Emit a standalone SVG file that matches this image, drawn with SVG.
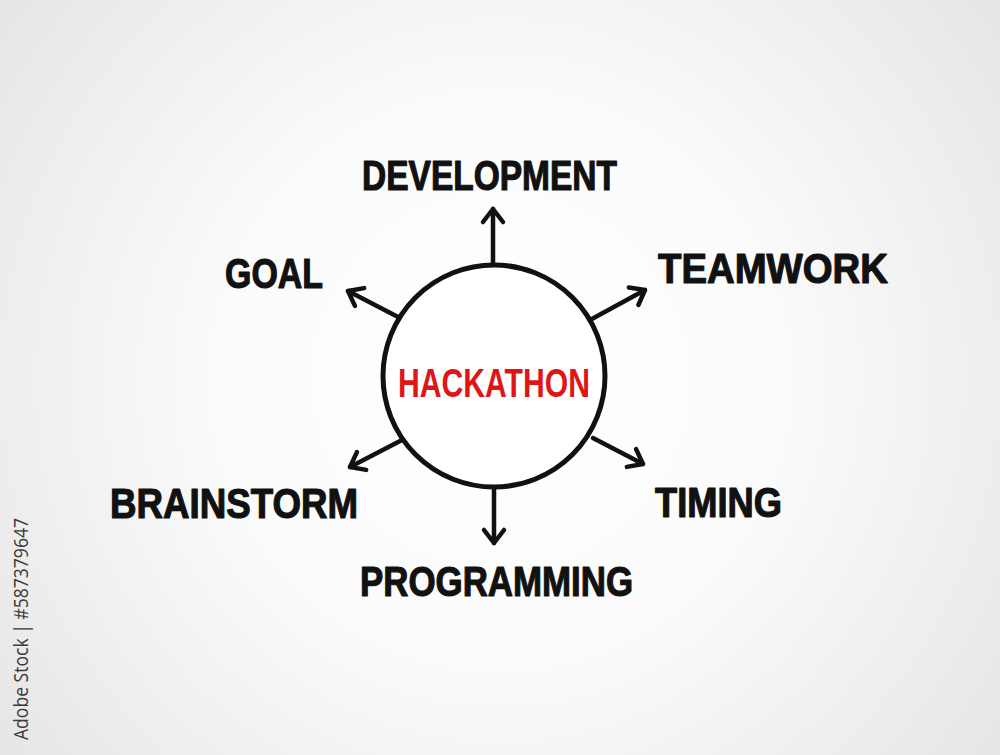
<svg xmlns="http://www.w3.org/2000/svg" width="1000" height="755" viewBox="0 0 1000 755">
  <defs>
    <radialGradient id="bg" cx="500" cy="380" r="620" gradientUnits="userSpaceOnUse">
      <stop offset="0" stop-color="#ffffff"/>
      <stop offset="0.45" stop-color="#fbfbfb"/>
      <stop offset="1" stop-color="#e6e6e6"/>
    </radialGradient>
    <marker id="head" markerUnits="userSpaceOnUse" markerWidth="40" markerHeight="40" refX="0" refY="0" viewBox="-20 -20 40 40" orient="auto" overflow="visible">
      <path d="M-13,-10 L0,0 L-13,10" fill="none" stroke="#111" stroke-width="4.5" stroke-linecap="round" stroke-linejoin="round"/>
    </marker>
    <style>
      .lbl { font-family: "Liberation Sans", Arial, sans-serif; font-weight: bold; font-size: 43px; fill: #111; stroke: #111; stroke-width: 1.2; stroke-linejoin: round; }
      .center { font-family: "Liberation Sans", Arial, sans-serif; font-weight: bold; font-size: 41px; fill: #e01515; }
      .conn { fill: none; stroke: #111; stroke-width: 4.5; stroke-linecap: round; marker-end: url(#head); }
      .stock { font-family: "Open Sans", "Liberation Sans", sans-serif; font-size: 20px; fill: #3a3a3a; }
    </style>
  </defs>

  <rect x="0" y="0" width="1000" height="755" fill="url(#bg)"/>

  <g id="connectors">
    <line class="conn" x1="493" y1="266" x2="493" y2="209"/>
    <line class="conn" x1="400" y1="318" x2="348" y2="291"/>
    <line class="conn" x1="590" y1="320" x2="645" y2="290"/>
    <line class="conn" x1="402" y1="440" x2="350" y2="467"/>
    <line class="conn" x1="593" y1="438" x2="643" y2="464"/>
    <line class="conn" x1="494" y1="488" x2="494" y2="543"/>
  </g>

  <g id="hackathon">
    <circle cx="494" cy="376" r="111" fill="#ffffff" stroke="#111" stroke-width="5"/>
    <text class="center" x="398" y="397" textLength="192" lengthAdjust="spacingAndGlyphs">HACKATHON</text>
  </g>

  <g id="development">
    <text class="lbl" x="362" y="190" textLength="255" lengthAdjust="spacingAndGlyphs">DEVELOPMENT</text>
  </g>
  <g id="goal">
    <text class="lbl" x="225" y="288" textLength="98" lengthAdjust="spacingAndGlyphs">GOAL</text>
  </g>
  <g id="teamwork">
    <text class="lbl" x="658" y="283" textLength="230" lengthAdjust="spacingAndGlyphs">TEAMWORK</text>
  </g>
  <g id="brainstorm">
    <text class="lbl" x="110" y="518" textLength="248" lengthAdjust="spacingAndGlyphs">BRAINSTORM</text>
  </g>
  <g id="timing">
    <text class="lbl" x="655" y="517" textLength="127" lengthAdjust="spacingAndGlyphs">TIMING</text>
  </g>
  <g id="programming">
    <text class="lbl" x="360" y="596" textLength="273" lengthAdjust="spacingAndGlyphs">PROGRAMMING</text>
  </g>

  <text class="stock" transform="translate(28,740) rotate(-90)" x="0" y="0" textLength="222" lengthAdjust="spacingAndGlyphs">Adobe Stock | #587379647</text>
</svg>
